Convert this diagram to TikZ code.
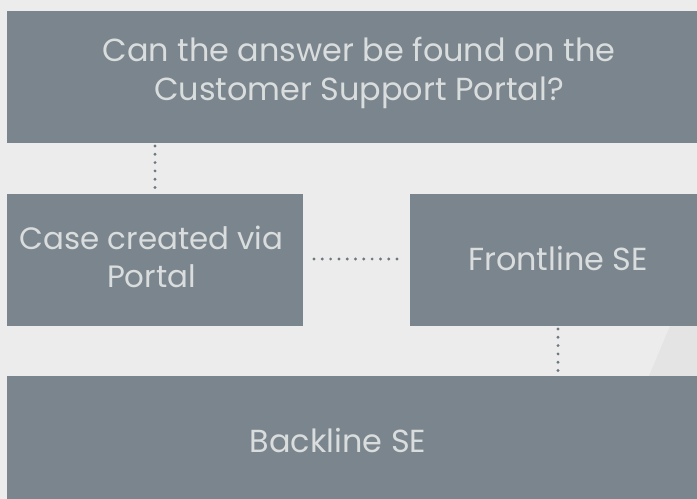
\documentclass[tikz,border=0pt]{standalone}
\usepackage{fontspec}
\setmainfont{Poppins}
\definecolor{bg}{HTML}{EBECEB}
\definecolor{bgdark}{HTML}{E3E4E3}
\definecolor{boxc}{HTML}{7B858D}
\definecolor{dotc}{HTML}{6E7880}
\definecolor{txt}{HTML}{DADDDD}
\begin{document}
\begin{tikzpicture}[x=1bp,y=-1bp,
  box/.style={fill=boxc,draw=none},
  lbl/.style={text=txt,align=center,font=\fontsize{32}{39}\selectfont},
  dotline/.style={draw=dotc,line width=3.2bp,line cap=round,dash pattern=on 0pt off 8.3bp}]
\fill[bg] (0,0) rectangle (697,499);
\useasboundingbox (0,0) rectangle (697,499);
\fill[bgdark] (670,326) -- (697,326) -- (697,376) -- (649,376) -- cycle;
\node[box,minimum width=690bp,minimum height=132bp] (q) at (352,77) {};
\node[lbl] (qt) at (359,73) {Can the answer be found on the\\Customer Support Portal?};
\node[box,minimum width=296bp,minimum height=132bp] (c) at (155,260) {};
\node[lbl,font=\fontsize{31}{38}\selectfont] (ct) at (151.5,257) {Case created via\\Portal};
\node[box,minimum width=287bp,minimum height=132bp] (f) at (553.5,260) {};
\node[lbl] (ft) at (558,259) {Frontline SE};
\node[box,minimum width=690bp,minimum height=123bp] (b) at (352,437.5) {};
\node[lbl] (bt) at (338,441) {Backline SE};
\coordinate (d1a) at (155,146);
\coordinate (d1b) at (155,190);
\draw[dotline] (d1a) -- (d1b);
\coordinate (d2a) at (314,259);
\coordinate (d2b) at (400,259);
\draw[dotline] (d2a) -- (d2b);
\coordinate (d3a) at (558,329);
\coordinate (d3b) at (558,372);
\draw[dotline] (d3a) -- (d3b);
\end{tikzpicture}
\end{document}
